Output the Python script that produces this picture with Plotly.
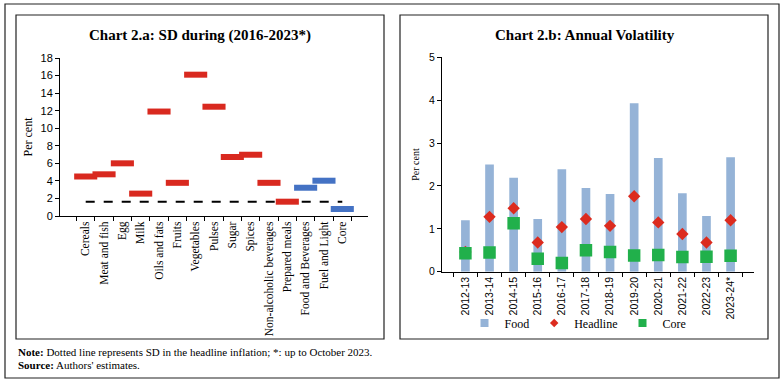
import plotly.graph_objects as go

# ---------------- Data ----------------
categories = ["Cereals", "Meat and fish", "Egg", "Milk", "Oils and fats", "Fruits",
              "Vegetables", "Pulses", "Sugar", "Spices", "Non-alcoholic beverages",
              "Prepared meals", "Food and Beverages", "Fuel and Light", "Core"]
sd_values = [4.5, 4.75, 6.0, 2.55, 11.9, 3.78, 16.1, 12.45, 6.72, 6.98, 3.78,
             1.63, 3.22, 4.02, 0.8]
group_kind = ["item"] * 12 + ["aggregate"] * 3
headline_sd = 1.63

years = ["2012-13", "2013-14", "2014-15", "2015-16", "2016-17", "2017-18",
         "2018-19", "2019-20", "2020-21", "2021-22", "2022-23", "2023-24*"]
food = [1.2, 2.5, 2.19, 1.23, 2.39, 1.95, 1.81, 3.93, 2.65, 1.83, 1.3, 2.67]
headline = [0.46, 1.28, 1.48, 0.68, 1.04, 1.23, 1.07, 1.76, 1.15, 0.88, 0.68, 1.2]
core = [0.43, 0.45, 1.13, 0.3, 0.2, 0.5, 0.46, 0.38, 0.39, 0.34, 0.35, 0.37]

# ---------------- Style ----------------
RED = "#d9291f"
BLUE = "#4472c4"
FOOD_C = "#95b3d7"
HEAD_C = "#dc2b1e"
CORE_C = "#21b04b"
SERIF = "Liberation Serif"
SANS = "Liberation Sans"

W, H = 784, 383
def px(x):
    return x / W
def py(y):
    return 1 - y / H

fig = go.Figure()

# Left chart: headline dashed line (below), SD markers as horizontal bars
fig.add_trace(go.Scatter(
    x=categories, y=[headline_sd] * len(categories), mode="lines",
    line=dict(color="black", width=2, dash="dash"),
    showlegend=False, xaxis="x", yaxis="y"))
fig.add_trace(go.Scatter(
    x=categories, y=sd_values, mode="markers",
    marker=dict(symbol="line-ew", size=16.5,
                line=dict(width=6, color=[RED if k == "item" else BLUE for k in group_kind])),
    showlegend=False, xaxis="x", yaxis="y", hoverinfo="x+y"))

# Right chart
fig.add_trace(go.Bar(x=years, y=food, name="Food", marker_color=FOOD_C, width=0.36,
                     showlegend=False, legendgroup="food", xaxis="x2", yaxis="y2"))
fig.add_trace(go.Scatter(x=years, y=headline, name="Headline", mode="markers",
                         marker=dict(symbol="diamond", size=9.5, color=HEAD_C),
                         showlegend=False, legendgroup="head", xaxis="x2", yaxis="y2"))
fig.add_trace(go.Scatter(x=years, y=core, name="Core", mode="markers",
                         marker=dict(symbol="square", size=12.5, color=CORE_C),
                         showlegend=False, legendgroup="core", xaxis="x2", yaxis="y2"))

# Legend entries (small symbols as in the original legend)
for nm, sym, col, sz, grp in [("Food", "square", FOOD_C, 8, "food"),
                              ("Headline", "diamond", HEAD_C, 6.5, "head"),
                              ("Core", "square", CORE_C, 8, "core")]:
    fig.add_trace(go.Scatter(x=[None], y=[None], mode="markers", name=nm, legendgroup=grp,
                             marker=dict(symbol=sym, size=sz, color=col),
                             xaxis="x2", yaxis="y2", hoverinfo="skip"))

axis_common = dict(showline=True, linecolor="black", linewidth=1, showgrid=False,
                   zeroline=False, ticks="outside", ticklen=4, tickcolor="black",
                   automargin=False)

fig.update_layout(
    template="none",
    width=W, height=H, margin=dict(l=0, r=0, t=0, b=0, pad=0, autoexpand=False),
    paper_bgcolor="white", plot_bgcolor="white",
    font=dict(family=SERIF, color="black"),
    xaxis=dict(domain=[px(60), px(368)], anchor="y", type="category",
               tickangle=-90, tickson="boundaries",
               tickfont=dict(family=SERIF, size=11.5), **axis_common),
    yaxis=dict(domain=[py(216), py(58)], anchor="x", range=[0, 18], dtick=2,
               tickfont=dict(family=SANS, size=11),
               title=dict(text="Per cent", font=dict(family=SERIF, size=12), standoff=5),
               **axis_common),
    xaxis2=dict(domain=[px(442), px(754)], anchor="y2", type="category",
                tickangle=-90, tickson="boundaries",
                tickfont=dict(family=SANS, size=10.5), **axis_common),
    yaxis2=dict(domain=[py(271.7), py(57.3)], anchor="x2", range=[0, 5], dtick=1,
                tickfont=dict(family=SANS, size=10.5),
                title=dict(text="Per cent", font=dict(family=SERIF, size=10), standoff=7),
                **axis_common),
    legend=dict(orientation="h", x=px(578), y=py(323), xanchor="center", yanchor="middle",
                font=dict(family=SERIF, size=12), itemwidth=30, itemsizing="trace",
                tracegroupgap=0, bgcolor="rgba(0,0,0,0)", borderwidth=0),
    bargap=0.6,
)

shapes = [
    dict(type="rect", xref="paper", yref="paper", x0=px(5), x1=px(779), y0=py(378), y1=py(4),
         line=dict(color="#222", width=1.2)),
    dict(type="rect", xref="paper", yref="paper", x0=px(16), x1=px(384), y0=py(339), y1=py(15),
         line=dict(color="#222", width=1.2)),
    dict(type="rect", xref="paper", yref="paper", x0=px(400), x1=px(768), y0=py(339), y1=py(15),
         line=dict(color="#222", width=1.2)),
]
fig.update_layout(shapes=shapes)

annotations = [
    dict(text="<b>Chart 2.a: SD during (2016-2023*)</b>", x=px(200), y=py(35),
         xref="paper", yref="paper", showarrow=False, xanchor="center", yanchor="middle",
         font=dict(family=SERIF, size=15)),
    dict(text="<b>Chart 2.b: Annual Volatility</b>", x=px(585), y=py(35),
         xref="paper", yref="paper", showarrow=False, xanchor="center", yanchor="middle",
         font=dict(family=SERIF, size=15)),
    dict(text="<b>Note:</b> Dotted line represents SD in the headline inflation; *: up to October 2023.",
         x=px(16), y=py(352), xref="paper", yref="paper", showarrow=False,
         xanchor="left", yanchor="middle", font=dict(family=SERIF, size=11)),
    dict(text="<b>Source:</b> Authors' estimates.",
         x=px(16), y=py(365), xref="paper", yref="paper", showarrow=False,
         xanchor="left", yanchor="middle", font=dict(family=SERIF, size=11)),
]
fig.update_layout(annotations=annotations)

fig.write_html("out.html", config={"displayModeBar": False},
               post_script="document.body.style.margin='0';document.body.style.overflow='hidden';")
